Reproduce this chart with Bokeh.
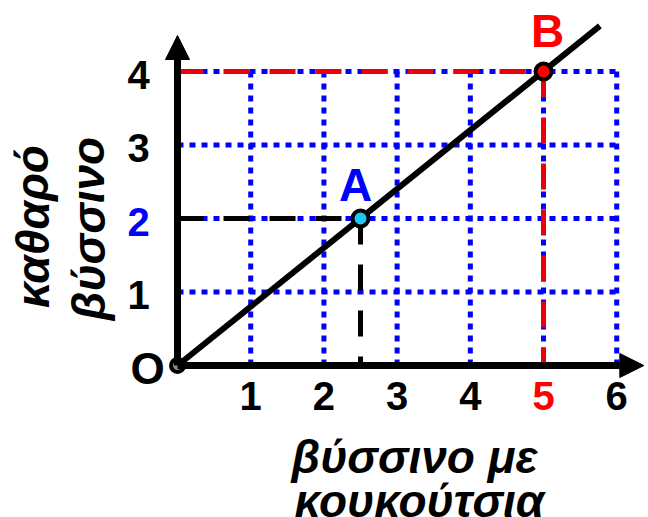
from bokeh.plotting import figure
from bokeh.models import Range1d, Arrow, NormalHead, Label, ColumnDataSource
from bokeh.core.properties import value
from bokeh.embed import file_html
from bokeh.resources import INLINE

# ---- data ----
x_ticks = [1, 2, 3, 4, 5, 6]
x_tick_labels = ["1", "2", "3", "4", "5", "6"]
x_tick_colors = ["black", "black", "black", "black", "#FF0000", "black"]
y_ticks = [1, 2, 3, 4]
y_tick_labels = ["1", "2", "3", "4"]
y_tick_colors = ["black", "#0000FF", "black", "black"]

grid_top = 4
grid_right = 6

line_x = [0, 5.77]
line_y = [0, 4.62]

point_A = (2.5, 2)
point_B = (5, 4)
origin = (0, 0)

x_axis_end = 6.37
y_axis_end = 4.49

x_title = ["βύσσινο με", "κουκούτσια"]
y_title = ["καθαρό", "βύσσινο"]

FONT = "Liberation Sans"
BLUE = "#0000FF"
RED = "#FF0000"
DRED = "#E8000A"

W, H = 648, 517
p = figure(width=W, height=H,
           x_range=Range1d(-2.418, 6.434), y_range=Range1d(-2.068, 4.966),
           x_axis_type=None, y_axis_type=None,
           output_backend="svg", toolbar_location=None, min_border=0)
p.grid.visible = False
p.outline_line_color = None
p.background_fill_color = "white"

# grid (dotted blue)
p.segment(x0=x_ticks, y0=[0] * len(x_ticks), x1=x_ticks, y1=[grid_top] * len(x_ticks),
          line_color=BLUE, line_width=5, line_dash="6 6")
p.segment(x0=[0] * len(y_ticks), y0=y_ticks, x1=[grid_right] * len(y_ticks), y1=y_ticks,
          line_color=BLUE, line_width=5, line_dash="6 6")

# dashed projections
p.segment(x0=[0], y0=[point_A[1]], x1=[point_A[0]], y1=[point_A[1]],
          line_color="black", line_width=5, line_dash="26 20")
p.segment(x0=[point_A[0]], y0=[point_A[1]], x1=[point_A[0]], y1=[0],
          line_color="black", line_width=5, line_dash="26 20")
p.segment(x0=[0], y0=[point_B[1]], x1=[point_B[0]], y1=[point_B[1]],
          line_color=DRED, line_width=5, line_dash="26 20")
p.segment(x0=[point_B[0]], y0=[point_B[1]], x1=[point_B[0]], y1=[0],
          line_color=DRED, line_width=5, line_dash="26 20")

# main line
p.line(line_x, line_y, line_color="black", line_width=6)

# axes with arrows
p.add_layout(Arrow(end=NormalHead(size=24, fill_color="black", line_color="black", line_width=1),
                   x_start=origin[0], y_start=origin[1], x_end=x_axis_end, y_end=origin[1],
                   line_width=7, line_color="black"))
p.add_layout(Arrow(end=NormalHead(size=24, fill_color="black", line_color="black", line_width=1),
                   x_start=origin[0], y_start=origin[1], x_end=origin[0], y_end=y_axis_end,
                   line_width=7, line_color="black"))

# points
p.scatter([origin[0]], [origin[1]], size=13, fill_color="#8C8C8C", line_color="black", line_width=4)
p.scatter([point_A[0]], [point_A[1]], size=16, fill_color="#1EC8F5", line_color="black", line_width=4)
p.scatter([point_B[0]], [point_B[1]], size=16, fill_color=RED, line_color="black", line_width=4)

# tick labels
xs = ColumnDataSource(dict(x=x_ticks, y=[0] * len(x_ticks), t=x_tick_labels, c=x_tick_colors))
p.text(x="x", y="y", text="t", text_color="c", source=xs, y_offset=30,
       text_align="center", text_baseline="middle",
       text_font=value(FONT), text_font_style="bold", text_font_size="40px")
ys = ColumnDataSource(dict(x=[0] * len(y_ticks), y=y_ticks, t=y_tick_labels, c=y_tick_colors))
p.text(x="x", y="y", text="t", text_color="c", source=ys, x_offset=-39, y_offset=3,
       text_align="center", text_baseline="middle",
       text_font=value(FONT), text_font_style="bold", text_font_size="40px")

# point labels
p.text(x=[origin[0]], y=[origin[1]], text=["O"], x_offset=-30, y_offset=3,
       text_align="center", text_baseline="middle", text_color="black",
       text_font=value(FONT), text_font_style="bold", text_font_size="44px")
p.text(x=[point_A[0]], y=[point_A[1]], text=["A"], x_offset=-5, y_offset=-34,
       text_align="center", text_baseline="middle", text_color=BLUE,
       text_font=value(FONT), text_font_style="bold", text_font_size="46px")
p.text(x=[point_B[0]], y=[point_B[1]], text=["B"], x_offset=4, y_offset=-41,
       text_align="center", text_baseline="middle", text_color=RED,
       text_font=value(FONT), text_font_style="bold", text_font_size="46px")

# axis titles
for txt, (sx, sy) in zip(x_title, [(414, H - 456), (419, H - 500)]):
    p.add_layout(Label(x=sx, y=sy, x_units="screen", y_units="screen", text=txt,
                       text_align="center", text_baseline="middle", text_color="black",
                       text_font=FONT, text_font_style="bold italic", text_font_size="46px"))
for txt, (sx, sy) in zip(y_title, [(32, H - 226), (88, H - 228)]):
    p.add_layout(Label(x=sx, y=sy, x_units="screen", y_units="screen", text=txt, angle=1.5708,
                       text_align="center", text_baseline="middle", text_color="black",
                       text_font=FONT, text_font_style="bold italic", text_font_size="46px"))

open("out.html", "w").write(file_html(p, INLINE))
